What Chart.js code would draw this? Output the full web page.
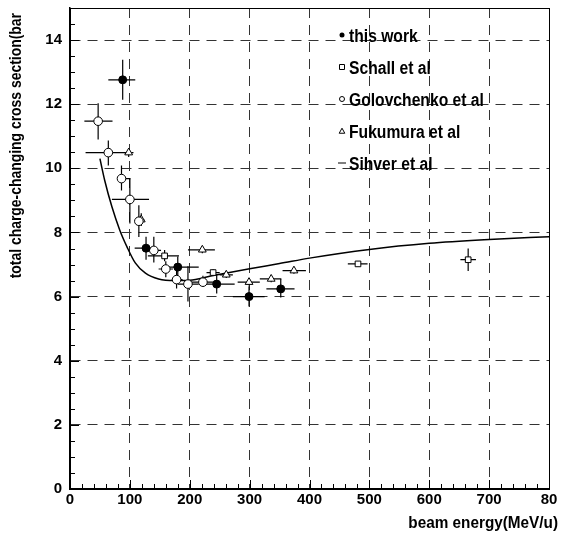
<!DOCTYPE html>
<html><head><meta charset="utf-8">
<script src="https://cdn.jsdelivr.net/npm/chart.js@4/dist/chart.umd.min.js"></script>
<style>html,body{margin:0;padding:0;background:#fff}canvas{display:block}</style>
</head><body>
<canvas id="c" width="563" height="538"></canvas>
<script>
const FONT = '"Liberation Sans",Arial,Helvetica,sans-serif';

// ---- axis ticks ----
const xTickValues = [0, 100, 200, 300, 400, 500, 600, 700, 800];
const xTickLabels = ['0', '100', '200', '300', '400', '500', '600', '700', '80'];
const yTickValues = [0, 2, 4, 6, 8, 10, 12, 14];
const yTickLabels = ['0', '2', '4', '6', '8', '10', '12', '14'];
const xMinorStep = 20;
const yMinorStep = 0.5;
const xTitle = 'beam energy(MeV/u)';
const yTitle = 'total charge-changing cross section(bar';

// ---- this work ----
const thisWorkX   = [88, 127, 180, 245, 299, 352];
const thisWorkY   = [12.76, 7.51, 6.92, 6.39, 6.00, 6.24];
const thisWorkXLo = [64, 108, 160, 225, 272, 328];
const thisWorkXHi = [109, 138, 215, 275, 325, 375];
const thisWorkYLo = [12.14, 7.15, 6.45, 6.10, 5.69, 5.97];
const thisWorkYHi = [13.39, 7.87, 7.25, 6.70, 6.32, 6.55];

// ---- Schall et al ----
const schallX   = [158, 239, 481, 665];
const schallY   = [7.27, 6.75, 7.02, 7.15];
const schallXLo = [130, 228, 464, 652];
const schallXHi = [182, 250, 497, 678];
const schallYLo = [7.10, 6.65, 6.95, 6.80];
const schallYHi = [7.45, 6.85, 7.10, 7.50];

// ---- Golovchenko et al ----
const golovX   = [47, 64, 86, 100, 115, 140, 160, 178, 197, 222];
const golovY   = [11.47, 10.49, 9.68, 9.03, 8.35, 7.44, 6.86, 6.53, 6.39, 6.45];
const golovXLo = [24, 26, 80, 70, 112, 130, 148, 170, 180, 203];
const golovXHi = [71, 97, 101, 132, 120, 152, 172, 188, 215, 239];
const golovYLo = [10.90, 10.09, 9.31, 8.28, 7.86, 7.06, 6.60, 6.25, 5.85, 6.30];
const golovYHi = [12.03, 10.87, 10.09, 9.68, 8.85, 7.87, 7.10, 6.85, 6.95, 6.65];

// ---- Fukumura et al ----
const fukuX   = [98, 119, 221, 261, 299, 336, 374];
const fukuY   = [10.49, 8.40, 7.46, 6.68, 6.45, 6.55, 6.81];
const fukuXLo = [90, 115, 197, 250, 280, 317, 355];
const fukuXHi = [106, 124, 242, 272, 317, 353, 394];
const fukuYLo = [10.35, 8.20, 7.35, 6.58, 6.35, 6.45, 6.71];
const fukuYHi = [10.63, 8.60, 7.57, 6.78, 6.55, 6.65, 6.91];

// ---- Sihver et al (calculation) ----
const sihverX = [50, 58, 70, 83, 95, 109, 126, 148, 175, 200, 235, 300, 350, 400, 500, 600, 700, 800];
const sihverY = [10.3, 9.62, 8.8, 8.08, 7.56, 7.05, 6.73, 6.55, 6.5, 6.51, 6.64, 6.87, 7.03, 7.2, 7.47, 7.66, 7.78, 7.87];

const seriesLabels = ['this work', 'Schall et al', 'Golovchenko et al', 'Fukumura et al', 'Sihver et al'];

const pts = (xs, ys) => xs.map((x, i) => ({x: x, y: ys[i]}));

const errors = [
  {xLo: thisWorkXLo, xHi: thisWorkXHi, yLo: thisWorkYLo, yHi: thisWorkYHi},
  {xLo: schallXLo, xHi: schallXHi, yLo: schallYLo, yHi: schallYHi},
  {xLo: golovXLo, xHi: golovXHi, yLo: golovYLo, yHi: golovYHi},
  {xLo: fukuXLo, xHi: fukuXHi, yLo: fukuYLo, yHi: fukuYHi},
  null
];

const errorBarPlugin = {
  id: 'errorBars',
  beforeDatasetsDraw(chart) {
    const ctx = chart.ctx, xs = chart.scales.x, ys = chart.scales.y;
    ctx.save();
    ctx.strokeStyle = '#000';
    ctx.lineWidth = 1.2;
    chart.data.datasets.forEach((ds, i) => {
      const e = errors[i];
      if (!e) return;
      ds.data.forEach((p, j) => {
        const px = xs.getPixelForValue(p.x), py = ys.getPixelForValue(p.y);
        ctx.beginPath();
        ctx.moveTo(xs.getPixelForValue(e.xLo[j]), py);
        ctx.lineTo(xs.getPixelForValue(e.xHi[j]), py);
        ctx.moveTo(px, ys.getPixelForValue(e.yLo[j]));
        ctx.lineTo(px, ys.getPixelForValue(e.yHi[j]));
        ctx.stroke();
      });
    });
    ctx.restore();
  }
};

function drawMarker(ctx, kind, x, y, r) {
  ctx.beginPath();
  if (kind === 'dot') {
    ctx.arc(x, y, r, 0, Math.PI * 2); ctx.fillStyle = '#000'; ctx.fill();
  } else if (kind === 'square') {
    ctx.rect(x - r, y - r, 2 * r, 2 * r); ctx.fillStyle = '#fff'; ctx.fill(); ctx.stroke();
  } else if (kind === 'circle') {
    ctx.arc(x, y, r, 0, Math.PI * 2); ctx.fillStyle = '#fff'; ctx.fill(); ctx.stroke();
  } else if (kind === 'triangle') {
    ctx.moveTo(x, y - r); ctx.lineTo(x + r, y + r * 0.8); ctx.lineTo(x - r, y + r * 0.8); ctx.closePath();
    ctx.fillStyle = '#fff'; ctx.fill(); ctx.stroke();
  } else if (kind === 'line') {
    ctx.moveTo(x - r - 1, y); ctx.lineTo(x + r + 1, y); ctx.stroke();
  }
}

function squeezedText(ctx, text, x, y, sx) {
  ctx.save();
  ctx.translate(x, y);
  ctx.scale(sx, 1);
  ctx.fillText(text, 0, 0);
  ctx.restore();
}

const decorPlugin = {
  id: 'decor',
  afterDraw(chart) {
    const ctx = chart.ctx, xs = chart.scales.x, ys = chart.scales.y;
    const {left, right, top, bottom} = chart.chartArea;
    ctx.save();
    // frame
    ctx.strokeStyle = '#000';
    ctx.lineWidth = 1;
    ctx.strokeRect(Math.round(left) + 0.5, Math.round(top) + 0.5, Math.round(right - left), Math.round(bottom - top));
    // inward ticks
    ctx.beginPath();
    for (let v = xs.min; v <= xs.max + 1e-9; v += xMinorStep) {
      const px = Math.round(xs.getPixelForValue(v)) + 0.5;
      const len = xTickValues.includes(v) ? 9 : 5;
      ctx.moveTo(px, bottom); ctx.lineTo(px, bottom - len);
    }
    for (let v = ys.min; v <= ys.max + 1e-9; v += yMinorStep) {
      const py = Math.round(ys.getPixelForValue(v)) + 0.5;
      const len = yTickValues.includes(v) ? 9 : 5;
      ctx.moveTo(left, py); ctx.lineTo(left + len, py);
    }
    ctx.stroke();
    // legend
    const kinds = ['dot', 'square', 'circle', 'triangle', 'line'];
    const sizes = [2.5, 2.5, 2.5, 2.8, 3];
    ctx.font = 'bold 18px ' + FONT;
    ctx.textBaseline = 'alphabetic';
    ctx.textAlign = 'left';
    seriesLabels.forEach((lab, i) => {
      const y0 = top + 27 + i * 32;
      ctx.strokeStyle = '#000'; ctx.lineWidth = 1;
      drawMarker(ctx, kinds[i], left + 272, y0, sizes[i]);
      ctx.fillStyle = '#000';
      squeezedText(ctx, lab, left + 279, y0 + 6.5, 0.87);
    });
    // axis titles
    ctx.fillStyle = '#000';
    ctx.font = 'bold 17px ' + FONT;
    ctx.textAlign = 'right';
    ctx.textBaseline = 'middle';
    squeezedText(ctx, xTitle, 558, 523, 0.9);
    ctx.translate(17, 13);
    ctx.rotate(-Math.PI / 2);
    ctx.font = 'bold 16px ' + FONT;
    squeezedText(ctx, yTitle, 0, 0, 0.87);
    ctx.restore();
  }
};

Chart.defaults.font.family = FONT;
Chart.defaults.font.weight = 'bold';
Chart.defaults.font.size = 15;
Chart.defaults.color = '#000';

new Chart(document.getElementById('c'), {
  type: 'scatter',
  data: {
    datasets: [
      {label: seriesLabels[0], data: pts(thisWorkX, thisWorkY), pointStyle: 'circle', pointRadius: 4,
       backgroundColor: '#000', borderColor: '#000', borderWidth: 1},
      {label: seriesLabels[1], data: pts(schallX, schallY), pointStyle: 'rect', pointRadius: 4,
       backgroundColor: '#fff', borderColor: '#000', borderWidth: 1},
      {label: seriesLabels[2], data: pts(golovX, golovY), pointStyle: 'circle', pointRadius: 4.3,
       backgroundColor: '#fff', borderColor: '#000', borderWidth: 1},
      {label: seriesLabels[3], data: pts(fukuX, fukuY), pointStyle: 'triangle', pointRadius: 4.5,
       backgroundColor: '#fff', borderColor: '#000', borderWidth: 1},
      {label: seriesLabels[4], data: pts(sihverX, sihverY), showLine: true, pointRadius: 0,
       borderColor: '#000', borderWidth: 1.5, cubicInterpolationMode: 'monotone', fill: false}
    ]
  },
  options: {
    responsive: false,
    animation: false,
    events: [],
    layout: {padding: {left: 0, top: 8, right: 14, bottom: 0}},
    plugins: {legend: {display: false}, tooltip: {enabled: false}, title: {display: false}},
    scales: {
      x: {
        type: 'linear', min: 0, max: 800,
        afterBuildTicks: s => { s.ticks = xTickValues.map(v => ({value: v})); },
        afterFit: s => { s.height = 49; s.paddingLeft = 0; s.paddingRight = 0; },
        ticks: {padding: 2, maxRotation: 0, autoSkip: false,
                callback: (v) => xTickLabels[xTickValues.indexOf(v)]},
        grid: {color: '#333', lineWidth: 1, drawTicks: false},
        border: {color: '#000', width: 1.5, dash: [10, 7]}
      },
      y: {
        type: 'linear', min: 0, max: 15,
        afterBuildTicks: s => { s.ticks = yTickValues.map(v => ({value: v})); },
        afterFit: s => { s.width = 70; s.paddingTop = 0; s.paddingBottom = 0; },
        ticks: {padding: 8, autoSkip: false,
                callback: (v) => yTickLabels[yTickValues.indexOf(v)]},
        grid: {color: '#333', lineWidth: 1, drawTicks: false},
        border: {color: '#000', width: 1.5, dash: [10, 7]}
      }
    }
  },
  plugins: [errorBarPlugin, decorPlugin]
});
</script>
</body></html>
